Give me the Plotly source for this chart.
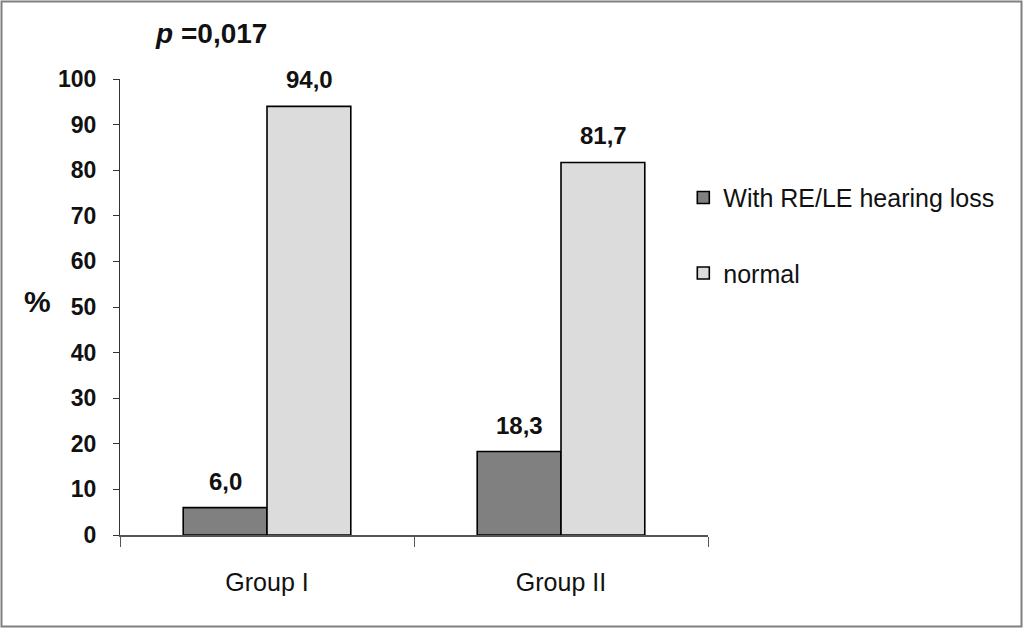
import plotly.graph_objects as go

categories = ["Group I", "Group II"]
series_names = ["With RE/LE hearing loss", "normal"]
hearing_loss = [6.0, 18.3]
normal = [94.0, 81.7]
y_ticks = [0, 10, 20, 30, 40, 50, 60, 70, 80, 90, 100]

FONT = "Arial, Liberation Sans, sans-serif"
colors = ["#808080", "#dcdcdc"]

fig = go.Figure()
for i, (name, vals) in enumerate(zip(series_names, [hearing_loss, normal])):
    fig.add_trace(go.Bar(
        x=categories, y=vals, name=name,
        marker=dict(color=colors[i], line=dict(color="#000000", width=1.6)),
        legendgroup=f"g{i}",
    ))

# value labels
bar_px = 84
for i, vals in enumerate([hearing_loss, normal]):
    for c, v in zip(categories, vals):
        fig.add_annotation(
            x=c, y=v, xref="x", yref="y",
            text=f"<b>{v:.1f}</b>".replace(".", ","),
            showarrow=False, yanchor="bottom", yshift=11,
            xshift=(-bar_px / 2 if i == 0 else bar_px / 2),
            font=dict(family=FONT, size=24, color="#111111"),
        )

fig.add_annotation(
    x=-0.141, y=0.511, xref="paper", yref="paper", text="<b>%</b>",
    xanchor="center", yanchor="middle",
    showarrow=False, font=dict(family=FONT, size=30, color="#111111"),
)

# border around the whole picture
W, H = 1023, 628
l, r, t, b = 120, 315, 79, 93
pw, ph = W - l - r, H - t - b
fig.add_shape(
    type="rect", xref="paper", yref="paper",
    x0=(1.5 - l) / pw, x1=(W - 1.5 - l) / pw,
    y0=-(b - 1.5) / ph, y1=(H - b - 1.5) / ph,
    line=dict(color="#808080", width=2),
)

fig.update_layout(
    width=W, height=H,
    margin=dict(l=l, r=r, t=t, b=b),
    paper_bgcolor="white", plot_bgcolor="white",
    separators=",.",
    barmode="group", bargap=0.43, bargroupgap=0,
    title=dict(
        text="<b><i>p</i> =0,017</b>", x=0.156, xref="paper", xanchor="center",
        y=1 - 33 / H, yref="container", yanchor="middle",
        font=dict(family=FONT, size=28, color="#111111"),
    ),
    legend=dict(
        x=0.958, xanchor="left", y=0.79, yanchor="top",
        font=dict(family=FONT, size=25, color="#111111"),
        tracegroupgap=40, bgcolor="rgba(0,0,0,0)",
    ),
    showlegend=True,
)
fig.update_xaxes(
    type="category", tickson="boundaries", ticks="outside", ticklen=10,
    tickcolor="#555555", showline=True, linecolor="#555555", linewidth=1.5,
    showgrid=False, ticklabelstandoff=24,
    tickfont=dict(family=FONT, size=25, color="#111111"),
)
fig.update_yaxes(
    range=[0, 100], tickvals=y_ticks, ticktext=[str(v) for v in y_ticks],
    ticks="outside", ticklen=6,
    tickcolor="#333333", showline=True, linecolor="#333333", linewidth=1.2,
    showgrid=False, zeroline=False, ticklabelstandoff=12,
    tickfont=dict(family=FONT, size=23, color="#111111", weight="bold"),
)

fig.write_html("out.html", config={"displayModeBar": False},
               post_script="document.body.style.margin='0';")
